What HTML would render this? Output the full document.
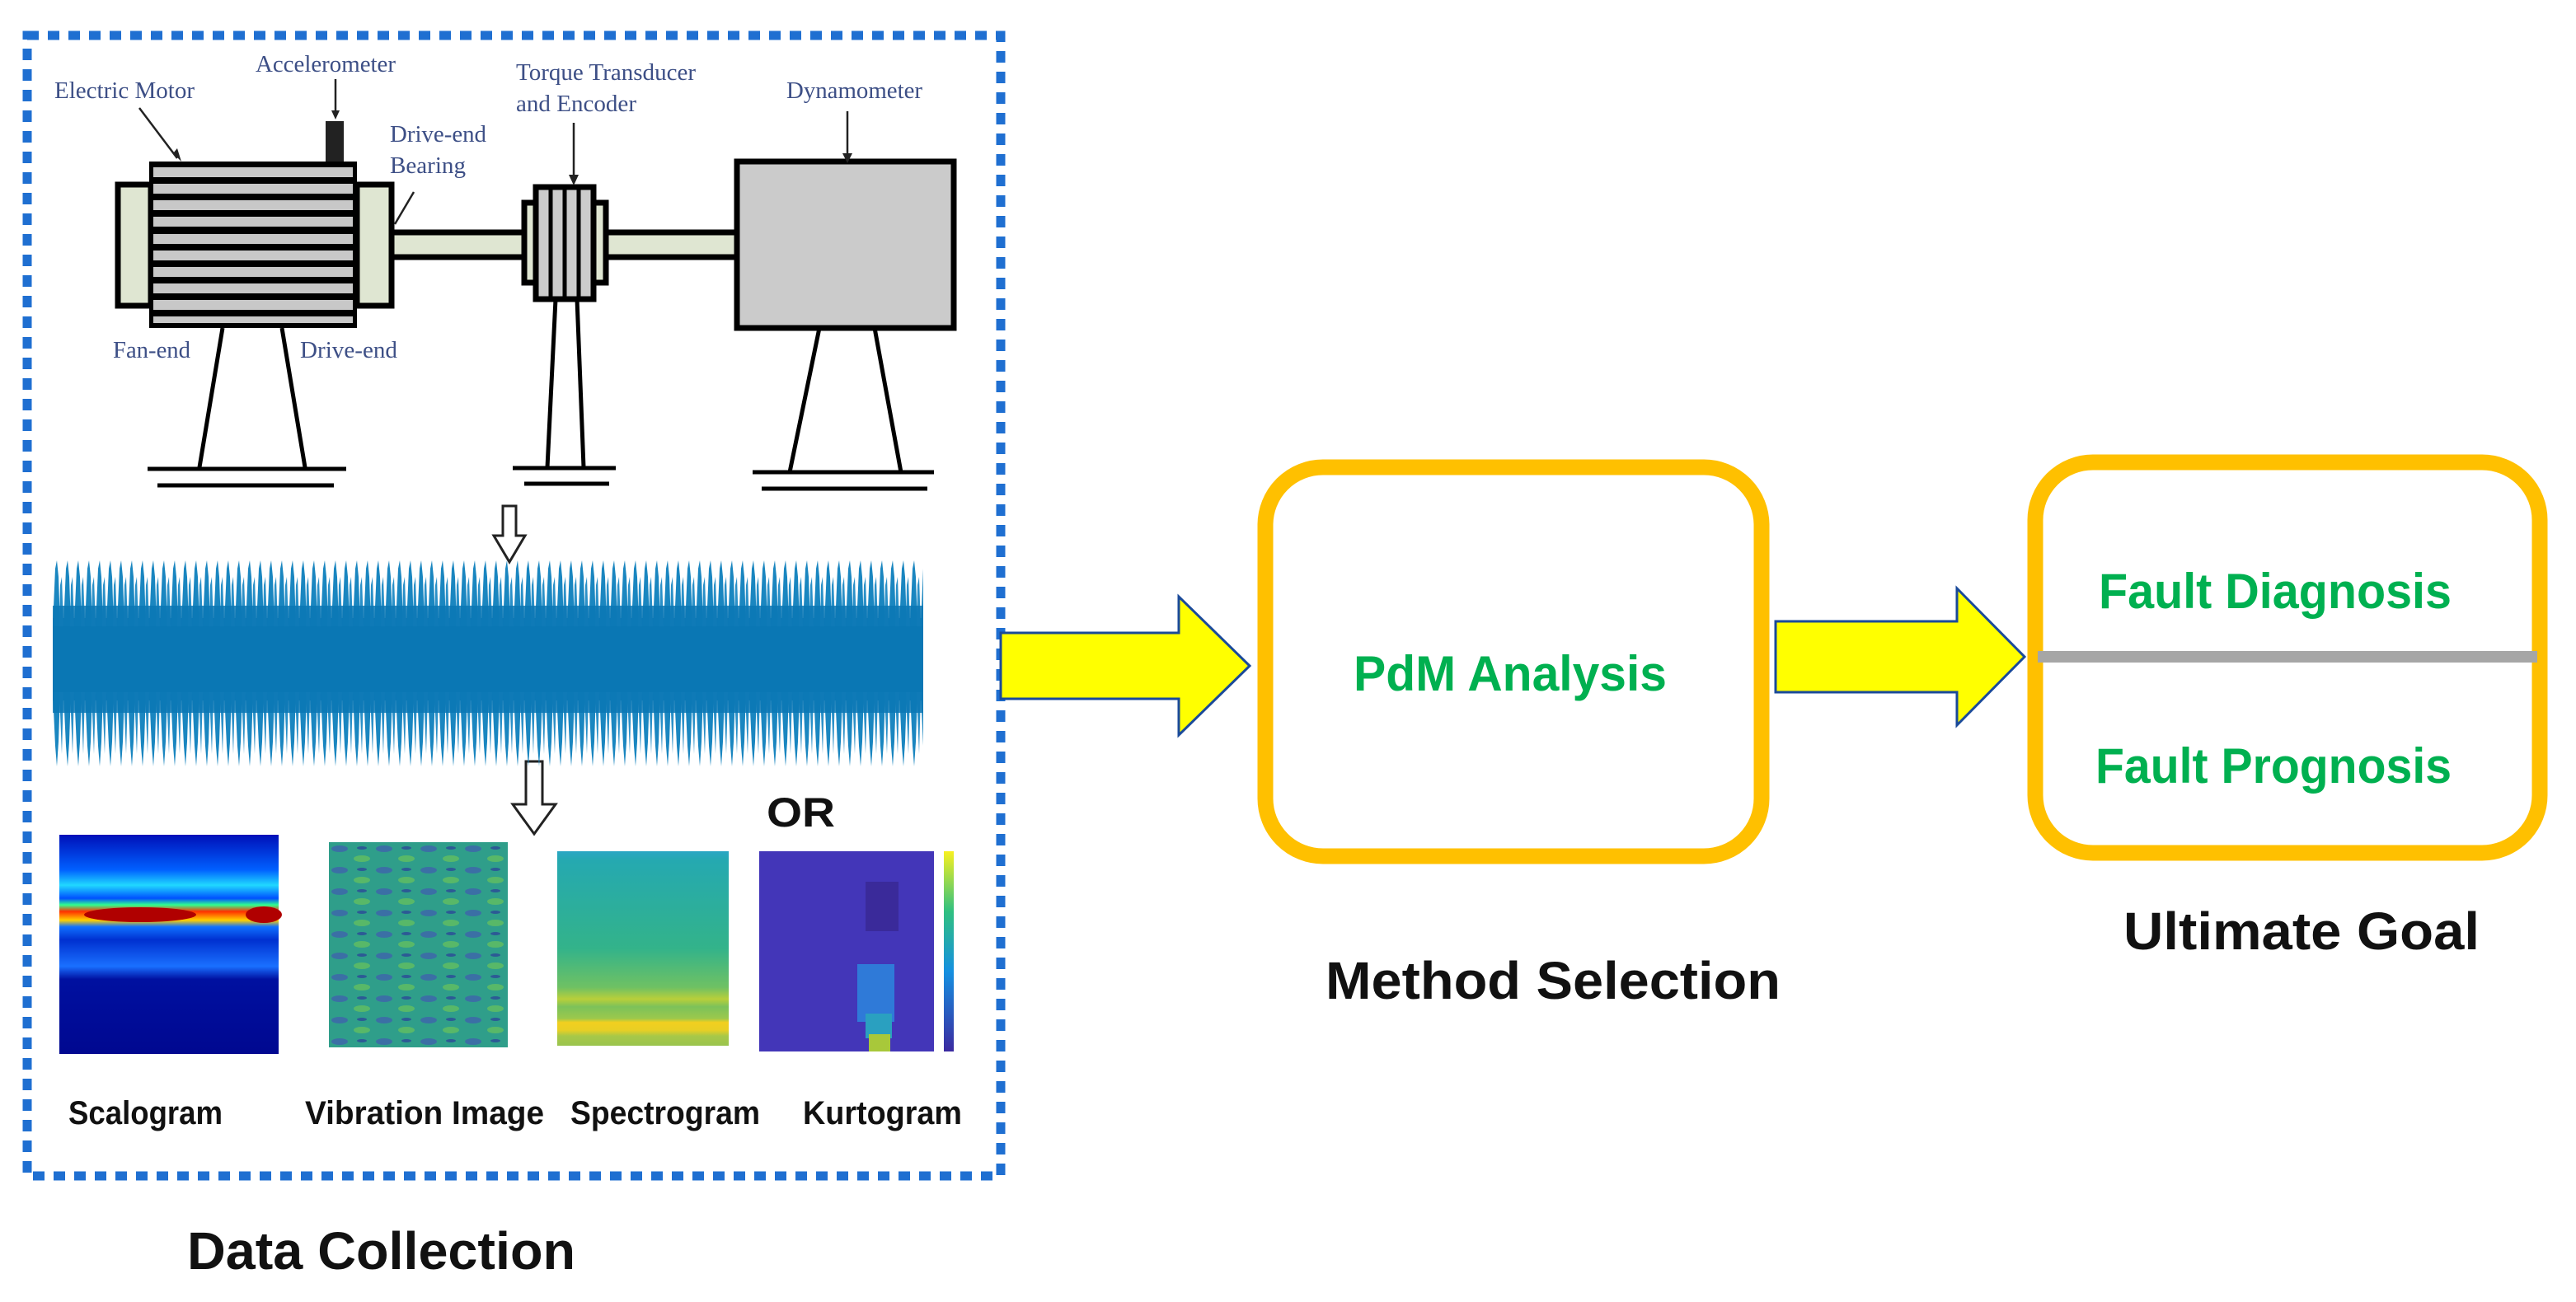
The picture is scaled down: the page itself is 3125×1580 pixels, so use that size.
<!DOCTYPE html>
<html><head><meta charset="utf-8"><style>
html,body{margin:0;padding:0;background:#fff}
body{width:3125px;height:1580px;overflow:hidden;position:relative}
svg{position:absolute;left:0;top:0}
</style></head><body>
<svg width="3125" height="1580" viewBox="0 0 3125 1580" xmlns="http://www.w3.org/2000/svg">
<defs>
<pattern id="spk" x="64" y="0" width="13" height="1580" patternUnits="userSpaceOnUse">
<polygon points="3,690 5,680 7,700 9,760 0,760" fill="#1a86c0"/>
<polygon points="0,840 9,840 7,900 5,930 3,905" fill="#1a86c0"/>
<polygon points="9,710 11,700 13,760 8,760" fill="#2a90c8"/>
<polygon points="8,840 13,840 11,915" fill="#2a90c8"/>
</pattern>
<linearGradient id="spec" x1="0" y1="0" x2="0" y2="1">
<stop offset="0" stop-color="#2aa6c4"/><stop offset="0.05" stop-color="#25a9b0"/>
<stop offset="0.5" stop-color="#33b38a"/><stop offset="0.7" stop-color="#6fc163"/>
<stop offset="0.76" stop-color="#b8cf3a"/><stop offset="0.8" stop-color="#7cc25a"/>
<stop offset="0.86" stop-color="#9cc84c"/><stop offset="0.88" stop-color="#f2cf1f"/>
<stop offset="0.92" stop-color="#e9cf24"/><stop offset="0.95" stop-color="#a8c848"/>
<stop offset="1" stop-color="#9ac44e"/></linearGradient>
<linearGradient id="scal" x1="0" y1="0" x2="0" y2="1">
<stop offset="0" stop-color="#0010b8"/><stop offset="0.16" stop-color="#0060ff"/>
<stop offset="0.23" stop-color="#20d8ff"/><stop offset="0.29" stop-color="#0050ff"/>
<stop offset="0.32" stop-color="#30ff90"/><stop offset="0.35" stop-color="#ff3000"/>
<stop offset="0.39" stop-color="#ffd000"/><stop offset="0.42" stop-color="#1070ff"/>
<stop offset="0.48" stop-color="#0030d0"/><stop offset="0.6" stop-color="#1a70ff"/>
<stop offset="0.66" stop-color="#0010a0"/><stop offset="1" stop-color="#000890"/></linearGradient>
<linearGradient id="cbar" x1="0" y1="1" x2="0" y2="0">
<stop offset="0" stop-color="#3b2aa0"/><stop offset="0.4" stop-color="#1590e0"/>
<stop offset="0.7" stop-color="#30c080"/><stop offset="1" stop-color="#f8f020"/></linearGradient>
<pattern id="vib" x="399" y="1022" width="54" height="26" patternUnits="userSpaceOnUse">
<rect width="54" height="26" fill="#2f9e8a"/>
<ellipse cx="13" cy="8" rx="10" ry="4" fill="#3b6fa5"/>
<ellipse cx="40" cy="20" rx="10" ry="4" fill="#58b868"/>
<ellipse cx="40" cy="7" rx="6" ry="2" fill="#2c5a95"/>
</pattern>
</defs>

<rect x="33" y="43" width="1181" height="1384" fill="none" stroke="#1f6fd1" stroke-width="11" stroke-dasharray="14 11"/>

<g stroke="#000" stroke-width="7">
<rect x="143" y="224" width="40" height="147" fill="#dfe6d2"/>
<rect x="433" y="224" width="42" height="147" fill="#dfe6d2"/>
<rect x="475" y="282" width="161" height="30" fill="#dfe6d2"/>
<rect x="735" y="282" width="159" height="30" fill="#dfe6d2"/>
<rect x="636" y="246" width="99" height="97" fill="#dfe6d2"/>
<rect x="650" y="227" width="70" height="136" fill="#ccc"/>
<rect x="894" y="196" width="263" height="202" fill="#cbcbcb"/>
</g>
<rect x="181" y="196" width="252" height="202" fill="#000"/>
<g fill="#c8c8c8">
<rect x="186" y="203" width="242" height="12"/><rect x="186" y="223" width="242" height="12"/>
<rect x="186" y="243" width="242" height="12"/><rect x="186" y="263" width="242" height="12"/>
<rect x="186" y="284" width="242" height="12"/><rect x="186" y="304" width="242" height="12"/>
<rect x="186" y="324" width="242" height="12"/><rect x="186" y="344" width="242" height="12"/>
<rect x="186" y="364" width="242" height="12"/><rect x="186" y="384" width="242" height="8"/>
</g>
<g stroke="#000" stroke-width="5"><line x1="668" y1="230" x2="668" y2="360"/><line x1="685" y1="230" x2="685" y2="360"/><line x1="702" y1="230" x2="702" y2="360"/></g>
<rect x="395" y="147" width="22" height="49" fill="#222"/>
<g stroke="#000" stroke-width="5" fill="none">
<line x1="270" y1="398" x2="242" y2="567"/><line x1="342" y1="398" x2="370" y2="567"/>
<line x1="179" y1="569" x2="420" y2="569"/><line x1="191" y1="589" x2="405" y2="589"/>
<line x1="674" y1="363" x2="664" y2="567"/><line x1="700" y1="363" x2="708" y2="567"/>
<line x1="622" y1="568" x2="747" y2="568"/><line x1="636" y1="587" x2="739" y2="587"/>
<line x1="994" y1="398" x2="958" y2="573"/><line x1="1061" y1="398" x2="1093" y2="573"/>
<line x1="913" y1="573" x2="1133" y2="573"/><line x1="924" y1="593" x2="1125" y2="593"/>
</g>
<g stroke="#222" stroke-width="2.5">
<line x1="169" y1="131" x2="215" y2="192"/><line x1="407" y1="96" x2="407" y2="137"/>
<line x1="502" y1="233" x2="479" y2="272"/><line x1="696" y1="149" x2="696" y2="216"/>
<line x1="1028" y1="135" x2="1028" y2="190"/>
</g>
<g fill="#222"><polygon points="210,186 220,196 215,180"/><polygon points="402,134 412,134 407,145"/><polygon points="690,212 702,212 696,225"/><polygon points="1022,186 1034,186 1028,198"/></g>
<g font-family="Liberation Serif, serif" font-size="28" fill="#3d4f86" lengthAdjust="spacingAndGlyphs">
<text x="66" y="119" textLength="170" lengthAdjust="spacingAndGlyphs">Electric Motor</text>
<text x="310" y="87" textLength="170" lengthAdjust="spacingAndGlyphs">Accelerometer</text>
<text x="626" y="97" textLength="218" lengthAdjust="spacingAndGlyphs">Torque Transducer</text>
<text x="626" y="135" textLength="146" lengthAdjust="spacingAndGlyphs">and Encoder</text>
<text x="954" y="119" textLength="165" lengthAdjust="spacingAndGlyphs">Dynamometer</text>
<text x="473" y="172" textLength="117" lengthAdjust="spacingAndGlyphs">Drive-end</text>
<text x="473" y="210" textLength="92" lengthAdjust="spacingAndGlyphs">Bearing</text>
<text x="137" y="434" textLength="94" lengthAdjust="spacingAndGlyphs">Fan-end</text>
<text x="364" y="434" textLength="118" lengthAdjust="spacingAndGlyphs">Drive-end</text>
</g>

<polygon points="610,614 626,614 626,650 637,650 618,682 599,650 610,650" fill="#fff" stroke="#222" stroke-width="3"/>
<polygon points="638,924 658,924 658,976 674,976 648,1012 622,976 638,976" fill="#fff" stroke="#222" stroke-width="3"/>

<rect x="64" y="750" width="1056" height="100" fill="#0a78b6"/>
<rect x="64" y="676" width="1056" height="254" fill="url(#spk)"/>
<rect x="64" y="735" width="1056" height="130" fill="#0b77b4" opacity="0.85"/>

<rect x="72" y="1013" width="266" height="266" fill="url(#scal)"/>
<ellipse cx="170" cy="1110" rx="68" ry="9" fill="#b00000"/>
<ellipse cx="320" cy="1110" rx="22" ry="10" fill="#b00000"/>
<rect x="399" y="1022" width="217" height="249" fill="url(#vib)"/>
<rect x="676" y="1033" width="208" height="236" fill="url(#spec)"/>
<rect x="921" y="1033" width="212" height="243" fill="#4336b8"/>
<rect x="1050" y="1070" width="40" height="60" fill="#3a2a9a"/>
<rect x="1040" y="1170" width="45" height="70" fill="#2f7ad8"/>
<rect x="1050" y="1230" width="32" height="30" fill="#2aa0c0"/>
<rect x="1054" y="1255" width="26" height="21" fill="#a8c83a"/>
<rect x="1145" y="1033" width="12" height="243" fill="url(#cbar)"/>

<g font-family="Liberation Sans, sans-serif" font-weight="bold" fill="#111">
<text x="930" y="1003" font-size="50" textLength="83" lengthAdjust="spacingAndGlyphs">OR</text>
<text x="83" y="1364" font-size="40" textLength="187" lengthAdjust="spacingAndGlyphs">Scalogram</text>
<text x="370" y="1364" font-size="40" textLength="290" lengthAdjust="spacingAndGlyphs">Vibration Image</text>
<text x="692" y="1364" font-size="40" textLength="230" lengthAdjust="spacingAndGlyphs">Spectrogram</text>
<text x="974" y="1364" font-size="40" textLength="193" lengthAdjust="spacingAndGlyphs">Kurtogram</text>
<text x="227" y="1540" font-size="64" textLength="471" lengthAdjust="spacingAndGlyphs">Data Collection</text>
<text x="1608" y="1212" font-size="64" textLength="552" lengthAdjust="spacingAndGlyphs">Method Selection</text>
<text x="2576" y="1152" font-size="64" textLength="432" lengthAdjust="spacingAndGlyphs">Ultimate Goal</text>
</g>

<polygon points="1214,768 1430,768 1430,724 1516,808 1430,892 1430,848 1214,848" fill="#ffff00" stroke="#1a4a9a" stroke-width="3"/>
<polygon points="2154,754 2374,754 2374,714 2456,797 2374,880 2374,840 2154,840" fill="#ffff00" stroke="#1a4a9a" stroke-width="3"/>

<rect x="1535" y="567" width="602" height="472" rx="70" fill="#fff" stroke="#ffc000" stroke-width="19"/>
<rect x="2469" y="561" width="612" height="474" rx="70" fill="#fff" stroke="#ffc000" stroke-width="19"/>
<rect x="2472" y="790" width="606" height="14" fill="#a6a6a6"/>
<g font-family="Liberation Sans, sans-serif" font-weight="bold" fill="#00b050" font-size="60">
<text x="1642" y="838" textLength="380" lengthAdjust="spacingAndGlyphs">PdM Analysis</text>
<text x="2546" y="738" textLength="428" lengthAdjust="spacingAndGlyphs">Fault Diagnosis</text>
<text x="2542" y="950" textLength="432" lengthAdjust="spacingAndGlyphs">Fault Prognosis</text>
</g>
</svg>
</body></html>
